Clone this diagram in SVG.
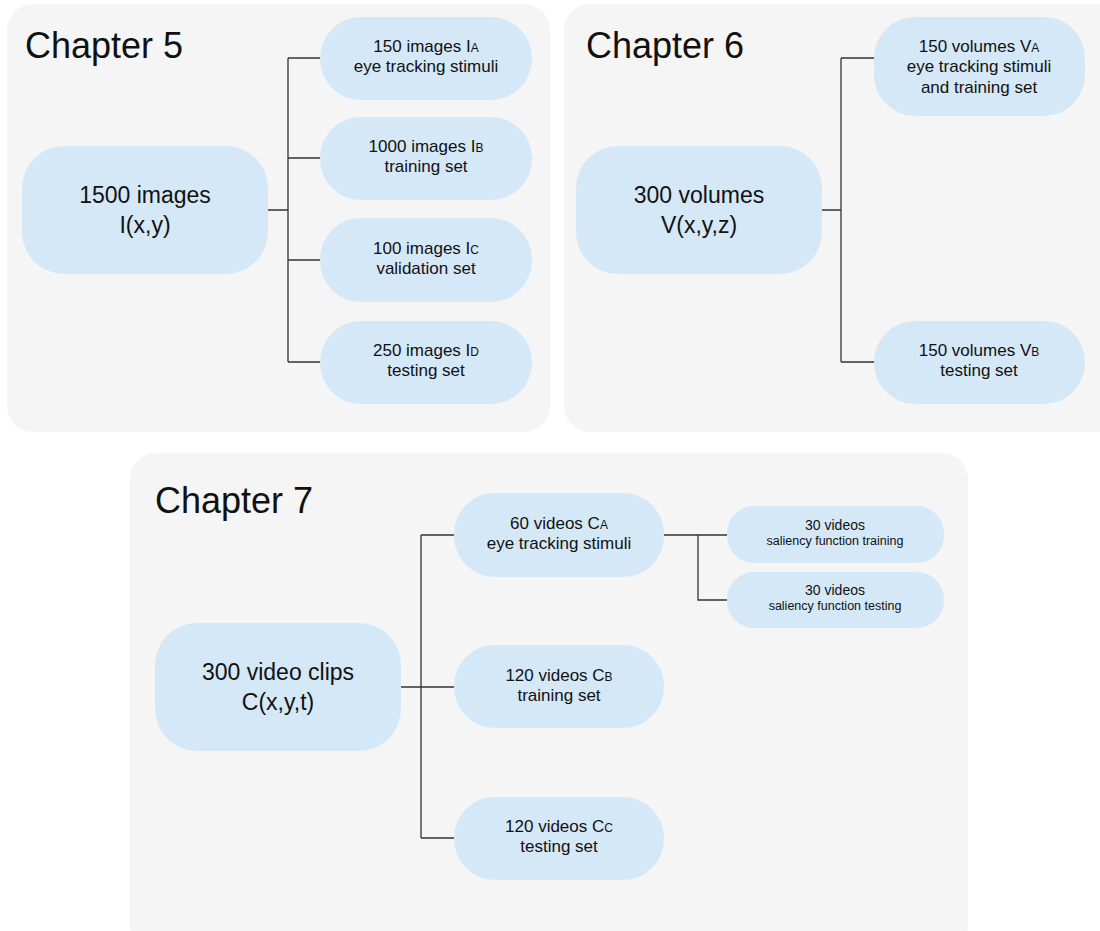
<svg xmlns="http://www.w3.org/2000/svg" width="1100" height="931" viewBox="0 0 1100 931">
  <style>
    .panel { fill: #f5f5f5; }
    .node { fill: #d5e8f8; }
    .title { font-family: "Liberation Sans", Arial, sans-serif; font-size: 36px; fill: #111; }
    .big { font-family: "Liberation Sans", Arial, sans-serif; font-size: 23px; fill: #111; text-anchor: middle; }
    .lbl { font-family: "Liberation Sans", Arial, sans-serif; font-size: 17px; fill: #111; text-anchor: middle; }
    .sub { font-size: 12px; }
    .small1 { font-family: "Liberation Sans", Arial, sans-serif; font-size: 14px; fill: #111; text-anchor: middle; }
    .small2 { font-family: "Liberation Sans", Arial, sans-serif; font-size: 12.5px; fill: #111; text-anchor: middle; }
    .wire { fill: none; stroke: #333; stroke-width: 1.3; }
  </style>

  <!-- chapter panels -->
  <rect class="panel" x="7" y="4" width="543" height="428" rx="26"/>
  <rect class="panel" x="564" y="4" width="560" height="428" rx="26"/>
  <rect class="panel" x="130" y="453" width="838" height="500" rx="26"/>

  <text class="title" x="25" y="58">Chapter 5</text>
  <text class="title" x="586" y="58">Chapter 6</text>
  <text class="title" x="155" y="513">Chapter 7</text>

  <!-- connectors -->
  <g id="connectors">
    <path class="wire" d="M268 210 H288 M288 58 V362 M288 58 H320 M288 158 H320 M288 260 H320 M288 362 H320"/>
    <path class="wire" d="M822 210 H841 M841 58 V362 M841 58 H874 M841 362 H874"/>
    <path class="wire" d="M401 687 H421 M421 535 V838 M421 535 H454 M421 687 H454 M421 838 H454"/>
    <path class="wire" d="M664 535 H727 M698 535 V600 H727"/>
  </g>

  <!-- chapter 5 -->
  <g id="ch5-all">
    <rect class="node" x="22" y="146" width="246" height="128" rx="42"/>
    <text class="big" x="145" y="203">1500 images</text>
    <text class="big" x="145" y="233">I(x,y)</text>
  </g>
  <g id="ch5-a">
    <rect class="node" x="320" y="17" width="212" height="83" rx="41"/>
    <text class="lbl" x="426" y="52">150 images I<tspan class="sub">A</tspan></text>
    <text class="lbl" x="426" y="72">eye tracking stimuli</text>
  </g>
  <g id="ch5-b">
    <rect class="node" x="320" y="117" width="212" height="83" rx="41"/>
    <text class="lbl" x="426" y="152">1000 images I<tspan class="sub">B</tspan></text>
    <text class="lbl" x="426" y="172">training set</text>
  </g>
  <g id="ch5-c">
    <rect class="node" x="320" y="218" width="212" height="84" rx="41"/>
    <text class="lbl" x="426" y="254">100 images I<tspan class="sub">C</tspan></text>
    <text class="lbl" x="426" y="274">validation set</text>
  </g>
  <g id="ch5-d">
    <rect class="node" x="320" y="321" width="212" height="83" rx="41"/>
    <text class="lbl" x="426" y="356">250 images I<tspan class="sub">D</tspan></text>
    <text class="lbl" x="426" y="376">testing set</text>
  </g>

  <!-- chapter 6 -->
  <g id="ch6-all">
    <rect class="node" x="576" y="146" width="246" height="128" rx="42"/>
    <text class="big" x="699" y="203">300 volumes</text>
    <text class="big" x="699" y="233">V(x,y,z)</text>
  </g>
  <g id="ch6-a">
    <rect class="node" x="874" y="17" width="211" height="99" rx="41"/>
    <text class="lbl" x="979" y="52">150 volumes V<tspan class="sub">A</tspan></text>
    <text class="lbl" x="979" y="72">eye tracking stimuli</text>
    <text class="lbl" x="979" y="93">and training set</text>
  </g>
  <g id="ch6-b">
    <rect class="node" x="874" y="321" width="211" height="83" rx="41"/>
    <text class="lbl" x="979" y="356">150 volumes V<tspan class="sub">B</tspan></text>
    <text class="lbl" x="979" y="376">testing set</text>
  </g>

  <!-- chapter 7 -->
  <g id="ch7-all">
    <rect class="node" x="155" y="623" width="246" height="128" rx="42"/>
    <text class="big" x="278" y="680">300 video clips</text>
    <text class="big" x="278" y="710">C(x,y,t)</text>
  </g>
  <g id="ch7-a">
    <rect class="node" x="454" y="493" width="210" height="84" rx="41"/>
    <text class="lbl" x="559" y="529">60 videos C<tspan class="sub">A</tspan></text>
    <text class="lbl" x="559" y="549">eye tracking stimuli</text>
  </g>
  <g id="ch7-b">
    <rect class="node" x="454" y="645" width="210" height="83" rx="41"/>
    <text class="lbl" x="559" y="681">120 videos C<tspan class="sub">B</tspan></text>
    <text class="lbl" x="559" y="701">training set</text>
  </g>
  <g id="ch7-c">
    <rect class="node" x="454" y="797" width="210" height="83" rx="41"/>
    <text class="lbl" x="559" y="832">120 videos C<tspan class="sub">C</tspan></text>
    <text class="lbl" x="559" y="852">testing set</text>
  </g>
  <g id="ch7-a1">
    <rect class="node" x="727" y="506" width="217" height="57" rx="27"/>
    <text class="small1" x="835" y="530">30 videos</text>
    <text class="small2" x="835" y="545">saliency function training</text>
  </g>
  <g id="ch7-a2">
    <rect class="node" x="727" y="572" width="217" height="56" rx="27"/>
    <text class="small1" x="835" y="595">30 videos</text>
    <text class="small2" x="835" y="610">saliency function testing</text>
  </g>
</svg>
